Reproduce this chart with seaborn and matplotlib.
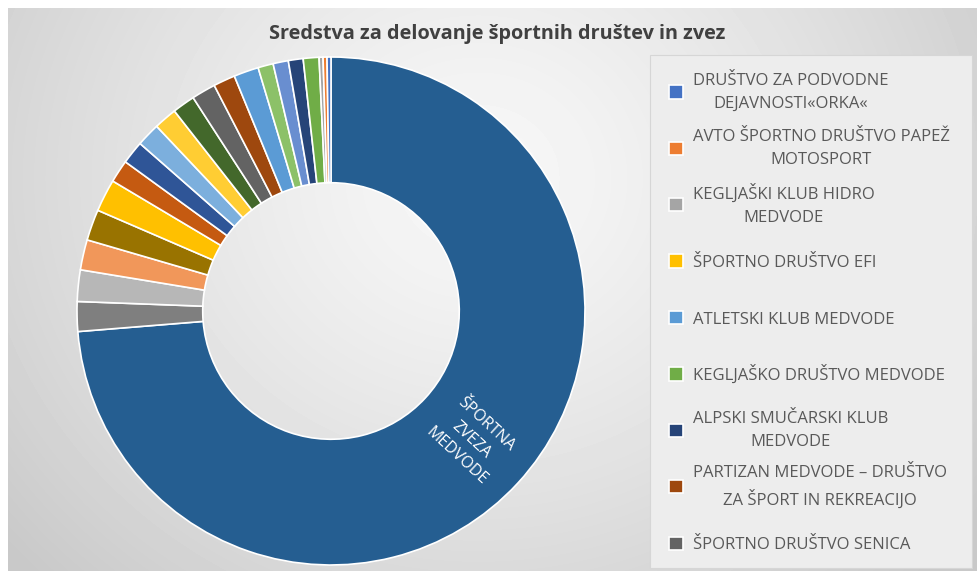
import matplotlib.pyplot as plt
import matplotlib.patches as mpatches
from matplotlib.legend_handler import HandlerPatch
from matplotlib.patches import Wedge
import numpy as np
import seaborn as sns

sns.set_theme(style="white")
plt.rcParams['font.family'] = ['Open Sans', 'DejaVu Sans']

TITLE = "Sredstva za delovanje športnih društev in zvez"

# slices in drawing order (clockwise from 12 o'clock), share of funds in %
slice_labels = [
    "ŠPORTNA ZVEZA MEDVODE", "drustvo 21", "drustvo 15", "drustvo 14", "drustvo 10",
    "ŠPORTNO DRUŠTVO EFI", "drustvo 20", "drustvo 19", "drustvo 17", "drustvo 16",
    "drustvo 12", "ŠPORTNO DRUŠTVO SENICA", "PARTIZAN MEDVODE – DRUŠTVO\nZA ŠPORT IN REKREACIJO",
    "ATLETSKI KLUB MEDVODE", "drustvo 18", "drustvo 13", "ALPSKI SMUČARSKI KLUB\nMEDVODE",
    "KEGLJAŠKO DRUŠTVO MEDVODE", "KEGLJAŠKI KLUB HIDRO\nMEDVODE",
    "AVTO ŠPORTNO DRUŠTVO PAPEŽ\nMOTOSPORT", "DRUŠTVO ZA PODVODNE\nDEJAVNOSTI«ORKA«",
]
slice_values = [
    73.7, 1.89, 2.0, 1.92, 1.97,
    2.06, 1.44, 1.47, 1.5, 1.47,
    1.44, 1.53, 1.39,
    1.58, 0.97, 0.97, 0.94,
    1.0, 0.25,
    0.25, 0.25,
]
slice_colors = [
    "#255E91", "#7F7F7F", "#B7B7B7", "#F1975A", "#997300",
    "#FFC000", "#C55A11", "#2F5597", "#7CAFDD", "#FFCD33",
    "#43682B", "#636363", "#9E480E",
    "#5B9BD5", "#8CC168", "#698ED0", "#264478",
    "#70AD47", "#A5A5A5",
    "#ED7D31", "#4472C4",
]

# legend shows only the first nine clubs (data order)
legend_names = [
    "DRUŠTVO ZA PODVODNE\nDEJAVNOSTI«ORKA«",
    "AVTO ŠPORTNO DRUŠTVO PAPEŽ\nMOTOSPORT",
    "KEGLJAŠKI KLUB HIDRO\nMEDVODE",
    "ŠPORTNO DRUŠTVO EFI",
    "ATLETSKI KLUB MEDVODE",
    "KEGLJAŠKO DRUŠTVO MEDVODE",
    "ALPSKI SMUČARSKI KLUB\nMEDVODE",
    "PARTIZAN MEDVODE – DRUŠTVO\nZA ŠPORT IN REKREACIJO",
    "ŠPORTNO DRUŠTVO SENICA",
]

W, H = 978, 571
fig = plt.figure(figsize=(W / 100, H / 100), dpi=100)
fig.patch.set_facecolor("white")

# soft grey background of the chart area
bg = fig.add_axes([8 / W, 0, 1 - 8 / W, 1 - 8 / H])
yy, xx = np.mgrid[0:563, 0:970]
d = np.hypot(xx - 470, (yy - 170) * 1.1) / 560
shade = 0.97 - 0.16 * np.clip(d, 0, 1.1) ** 1.3
bg.imshow(shade, cmap="gray", vmin=0, vmax=1, aspect="auto")
bg.axis("off")

# legend box
fig.add_artist(mpatches.Rectangle((650 / W, 1 - 568 / H), 322 / W, 513 / H,
                                  transform=fig.transFigure, facecolor="#ededed",
                                  edgecolor="#d6d6d6", linewidth=0.8, zorder=1))

# donut
cx, cy, r = 331, 311, 254
ax = fig.add_axes([(cx - r) / W, (H - cy - r) / H, 2 * r / W, 2 * r / H])
wedges, _ = ax.pie(
    slice_values, colors=slice_colors, startangle=90, counterclock=False,
    radius=1, wedgeprops=dict(width=0.495, edgecolor="white", linewidth=1.2),
)
ax.set_xlim(-1, 1)
ax.set_ylim(-1, 1)
ax.set_aspect("equal")
ax.axis("off")
for w in wedges:
    w.set_clip_on(False)

big = wedges[0]
mid = np.deg2rad((big.theta1 + big.theta2) / 2)
ax.text(0.75 * np.cos(mid), 0.75 * np.sin(mid), "ŠPORTNA\nZVEZA\nMEDVODE",
        rotation=np.rad2deg(mid), rotation_mode="anchor", ha="center", va="center",
        color="white", fontsize=11.5, linespacing=1.5)

fig.text(497 / W, 1 - 34 / H, TITLE, ha="center", va="center", fontsize=14.3,
         fontweight="bold", color="#404040")


def square_patch(legend, orig_handle, xdescent, ydescent, width, height, fontsize):
    s = 0.8 * fontsize
    return mpatches.Rectangle((width - s, 0.37 * fontsize - s / 2), s, s)


fs = 12
handles = [wedges[slice_labels.index(n)] for n in legend_names]
leg = fig.legend(
    handles, legend_names, loc="upper left",
    bbox_to_anchor=(662.7 / W, 1 - 69.9 / H),
    fontsize=fs, labelcolor="#595959", frameon=False,
    handlelength=1.2, handleheight=4.0, handletextpad=0.62,
    labelspacing=0.54, borderpad=0, borderaxespad=0,
    handler_map={Wedge: HandlerPatch(patch_func=square_patch)},
)
for t in leg.get_texts():
    t.set_multialignment("center")
    t.set_linespacing(1.55)

fig.savefig("out.png", dpi=100)
